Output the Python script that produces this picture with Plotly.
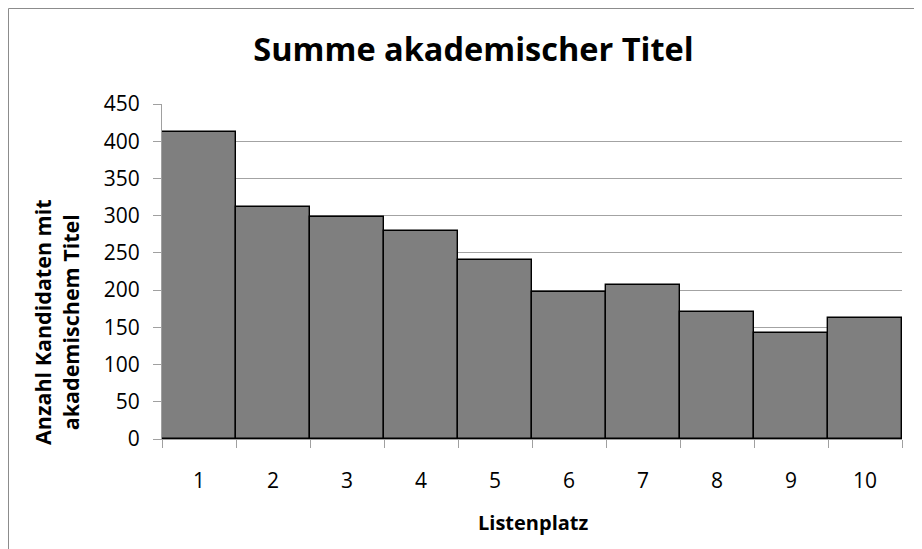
import plotly.graph_objects as go

categories = ["1", "2", "3", "4", "5", "6", "7", "8", "9", "10"]
values = [413, 311, 298, 279, 240, 197, 207, 170, 142, 163]
y_ticks = [0, 50, 100, 150, 200, 250, 300, 350, 400, 450]

FONT = "'Open Sans', Lato, sans-serif"

# figure sits inside the page's 8px body margin
W, H = 914, 541
L, R, T, B = 154, 20, 96, 110
pw, ph = W - L - R, H - T - B

fig = go.Figure(go.Bar(
    x=categories, y=values,
    marker=dict(color="#7f7f7f", line=dict(color="#000000", width=1.4)),
))

fig.update_layout(
    width=W, height=H,
    margin=dict(l=L, r=R, t=T, b=B, autoexpand=False),
    paper_bgcolor="white", plot_bgcolor="white",
    bargap=0,
    showlegend=False,
    font=dict(family=FONT, color="#000000", size=21),
    title=dict(text="<b>Summe akademischer Titel</b>", x=465.5 / W, xanchor="center",
               y=1 - 42 / H, yanchor="middle", font=dict(size=32.5, family=FONT)),
    xaxis=dict(
        type="category", tickson="boundaries", ticks="outside", ticklen=8,
        tickcolor="#a0a0a0", showline=True, linecolor="#a0a0a0", linewidth=1,
        showgrid=False, tickfont=dict(size=21), ticklabelstandoff=23,
    ),
    yaxis=dict(
        range=[0, 450], tickvals=y_ticks, ticks="outside", ticklen=8,
        tickcolor="#a0a0a0", showline=True, linecolor="#a0a0a0", linewidth=1,
        showgrid=True, gridcolor="#a3a3a3", gridwidth=1,
        tickfont=dict(size=21), zeroline=False, ticklabelstandoff=9,
    ),
)

# axis titles
fig.add_annotation(text="<b>Anzahl Kandidaten mit<br>akademischem Titel</b>",
                   xref="paper", yref="paper", x=(48 - L) / pw, y=(H - B - 314) / ph,
                   xanchor="center", yanchor="middle", textangle=-90, showarrow=False,
                   font=dict(size=21.5, family=FONT))
fig.add_annotation(text="<b>Listenplatz</b>",
                   xref="paper", yref="paper", x=(525 - L) / pw, y=(H - B - 514) / ph,
                   xanchor="center", yanchor="middle", showarrow=False,
                   font=dict(size=20, family=FONT))

# outer chart frame
fig.add_shape(type="rect", xref="paper", yref="paper",
              x0=(0.5 - L) / pw, x1=(W + 20 - L) / pw,
              y0=(H - B - (H + 20)) / ph, y1=(H - B - 0.5) / ph,
              line=dict(color="#8c8c8c", width=1), layer="below")

fig.write_html("out.html")
